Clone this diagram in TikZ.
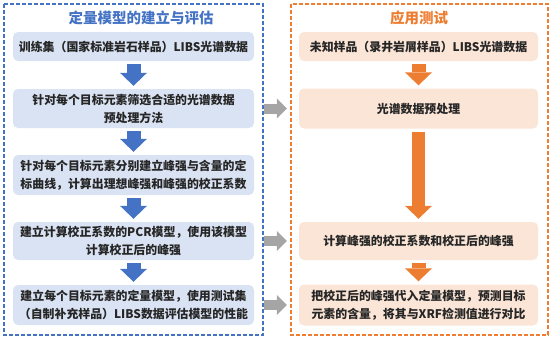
\documentclass[tikz,border=0pt]{standalone}
\usepackage{fontspec}
\setmainfont{Noto Sans CJK SC}
\usetikzlibrary{arrows.meta}

\definecolor{frameblue}{HTML}{4472C4}
\definecolor{frameorange}{HTML}{ED7D31}
\definecolor{boxblue}{HTML}{DAE3F3}
\definecolor{boxorange}{HTML}{FBE5D6}
\definecolor{linkgray}{HTML}{A5A5A5}

\begin{document}
\begin{tikzpicture}[
  x=1pt, y=-1pt,
  every node/.style={font=\fontsize{11.9}{18}\selectfont\bfseries,
                     text=black!85},
  stepbox/.style={rounded corners=5pt,inner sep=0pt,align=center,
                  minimum width=241pt},
  leftbox/.style={stepbox,fill=boxblue},
  rightbox/.style={stepbox,fill=boxorange,minimum width=239pt},
  frame/.style={dash pattern=on 4pt off 2pt,line width=1.2pt},
  heading/.style={font=\fontsize{14.5}{16}\selectfont\bfseries},
  flowarrow/.style={line width=14pt,shorten <=3pt,shorten >=3pt,
                    -{Triangle[length=13pt,width=27pt,line width=0pt]}},
  linkarrow/.style={linkgray,line width=10pt,shorten <=10pt,shorten >=12pt,
                    -{Triangle[length=10pt,width=20pt,line width=0pt]}}
]
\useasboundingbox (0,0) rectangle (554,341);

% two frames
\draw[frame,frameblue]   (4,4)   rectangle (263,335);
\draw[frame,frameorange] (291,4) rectangle (548,335);
\node[heading,text=frameblue]   (lt) at (141,17.5) {定量模型的建立与评估};
\node[heading,text=frameorange] (rt) at (419,17.5) {应用测试};

% left column
\node[leftbox,minimum height=29pt] (b1) at (133.5,46.5)
  {训练集（国家标准岩石样品）LIBS光谱数据};
\node[leftbox,minimum height=39pt] (b2) at (133.5,108.5)
  {针对每个目标元素筛选合适的光谱数据\\预处理方法};
\node[leftbox,minimum height=40pt] (b3) at (133.5,175)
  {针对每个目标元素分别建立峰强与含量的定\\标曲线，计算出理想峰强和峰强的校正系数};
\node[leftbox,minimum height=38pt] (b4) at (133.5,241)
  {建立计算校正系数的PCR模型，使用该模型\\计算校正后的峰强};
\node[leftbox,minimum height=40pt] (b5) at (133.5,305)
  {建立每个目标元素的定量模型，使用测试集\\（自制补充样品）LIBS数据评估模型的性能};

% right column
\node[rightbox,minimum height=29pt] (r1) at (418.5,46.5)
  {未知样品（录井岩屑样品）LIBS光谱数据};
\node[rightbox,minimum height=40pt] (r2) at (418.5,108.5)
  {光谱数据预处理};
\node[rightbox,minimum height=38pt] (r3) at (418.5,241)
  {计算峰强的校正系数和校正后的峰强};
\node[rightbox,minimum height=41pt] (r4) at (418.5,305)
  {把校正后的峰强代入定量模型，预测目标\\元素的含量，将其与XRF检测值进行对比};

\draw[flowarrow,frameblue] (b1) -- (b2);
\draw[flowarrow,frameblue] (b2) -- (b3);
\draw[flowarrow,frameblue] (b3) -- (b4);
\draw[flowarrow,frameblue] (b4) -- (b5);

\draw[flowarrow,frameorange] (r1) -- (r2);
\draw[flowarrow,frameorange,line width=13pt] (r2) -- (r3);
\draw[flowarrow,frameorange] (r3) -- (r4);

\draw[linkarrow] (b2.east) -- (r2.west);
\draw[linkarrow] (b4.east) -- (r3.west);
\draw[linkarrow] (b5.east) -- (r4.west);
\end{tikzpicture}
\end{document}
